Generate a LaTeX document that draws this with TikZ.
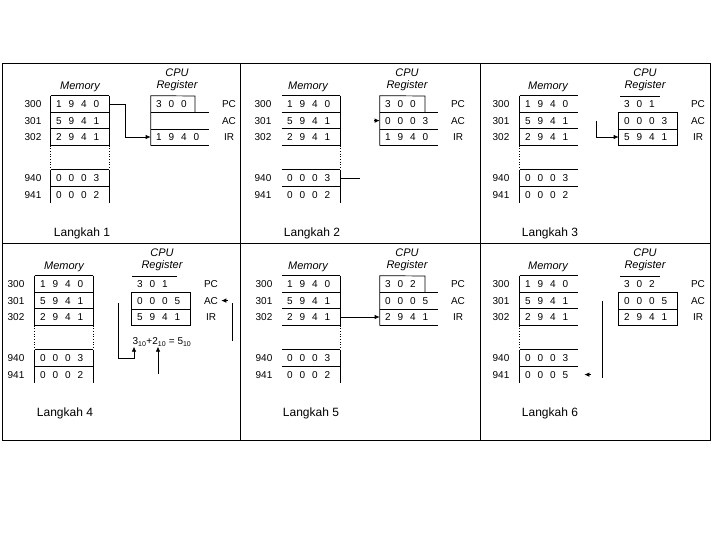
\documentclass[tikz,border=0pt]{standalone}
\usepackage{fontspec}
\setmainfont{Liberation Sans}
\usetikzlibrary{arrows.meta, positioning, calc}
\newcommand{\cellval}[1]{{\spaceskip=7pt\relax#1}}

\begin{document}
\begin{tikzpicture}[
    x=1pt, y=-1pt, line width=0.7pt,
    txt/.style={inner sep=0pt, font=\fontsize{10}{12}\selectfont},
    cell/.style={inner ysep=0pt, inner xsep=5pt, text width=48pt, minimum height=16.4pt, align=left, font=\fontsize{10}{12}\selectfont},
    head/.style={inner sep=0pt, font=\fontsize{11}{13}\selectfont\itshape},
    langkah/.style={inner sep=0pt, font=\fontsize{12}{14}\selectfont},
    link/.style={-{Latex[length=5pt,width=4.5pt]}},
]

\useasboundingbox (0,0) rectangle (720,540);
\draw (2,63) rectangle (710,440);
\draw (2,243) -- (710,243);
\draw (240,63) -- (240,440);
\draw (480,63) -- (480,440);

\foreach \pn/\ax/\mx/\rx/\lx/\cx/\hx/\sx/\oy/\mlast/\eL/\eR/\rpc/\rac/\rir in {
    1/33/51/151/229/177/80/82/0/0 0 0 2/1/1/3 0 0/{}/1 9 4 0,
    2/263/282/380/458/407/308/312/0/0 0 0 2/0/1/3 0 0/0 0 0 3/1 9 4 0,
    3/501/520/619/698/645/548/550/0/0 0 0 2/1/0/3 0 1/0 0 0 3/5 9 4 1,
    4/16/35/132/211/162/64/65/180/0 0 0 2/1/1/3 0 1/0 0 0 5/5 9 4 1,
    5/264/282/380/458/407/308/311/180/0 0 0 2/0/1/3 0 2/0 0 0 5/2 9 4 1,
    6/501/520/619/698/645/548/550/180/0 0 0 5/1/0/3 0 2/0 0 0 5/2 9 4 1} {
  \node[head] (p\pn-mem) at (\hx,\oy+87) {Memory};
  \node[head] (p\pn-cpu) at (\cx,\oy+73) {CPU};
  \node[head, below=2.5pt of p\pn-cpu] (p\pn-reg) {Register};
  \node[langkah] (p\pn-step) at (\sx,\oy+233) {Langkah \pn};
  \foreach \addr/\val/\yy in {300/1 9 4 0/104.2, 301/5 9 4 1/120.6, 302/2 9 4 1/137, 940/0 0 0 3/178.2, 941/\mlast/194.6} {
    \node[txt] (p\pn-a\addr) at (\ax,\oy+\yy) {\addr};
    \node[cell] (p\pn-m\addr) at (\mx+29,\oy+\yy) {\cellval{\val}};
    \draw (p\pn-m\addr.north west) -- (p\pn-m\addr.north east);
  }
  \draw (p\pn-m302.south west) -- (p\pn-m302.south east);
  \ifnum\eL=1\relax
    \draw (p\pn-m300.north west) -- (p\pn-m302.south west);
    \draw[dotted] (p\pn-m302.south west) -- (p\pn-m940.north west);
    \draw (p\pn-m940.north west) -- (p\pn-m941.south west);
  \fi
  \ifnum\eR=1\relax
    \draw (p\pn-m300.north east) -- (p\pn-m302.south east);
    \draw[dotted] (p\pn-m302.south east) -- (p\pn-m940.north east);
    \draw (p\pn-m940.north east) -- (p\pn-m941.south east);
  \fi
  \node[cell] (p\pn-pc) at (\rx+29,\oy+104.2) {\cellval{\rpc}};
  \node[cell] (p\pn-ac) at (\rx+29,\oy+120.6) {\cellval{\rac}};
  \node[cell] (p\pn-ir) at (\rx+29,\oy+137) {\cellval{\rir}};
  \node[txt] (p\pn-lpc) at (\lx,\oy+104.2) {PC};
  \node[txt] (p\pn-lac) at (\lx,\oy+120.6) {AC};
  \node[txt] (p\pn-lir) at (\lx,\oy+137) {IR};
  \draw (p\pn-pc.south west) -- (p\pn-pc.south east);
  \draw (p\pn-ac.south west) -- (p\pn-ac.south east);
  \draw (p\pn-ir.south west) -- (p\pn-ir.south east);
}

\draw (p1-ir.south west) -- (p1-pc.north west) -- (195,96) -- (195,112.4);
\draw[link] (p1-m300.east) -- ++(16,0) |- (p1-ir.west);

\draw (p2-ir.south west) -- (p2-pc.north west) -- (425,96) -- (425,112.4);
\coordinate (p2-end) at (360,178.2);
\draw (p2-m940.east) -- (p2-end);
\coordinate (p2-tail) at (374,120.6);
\draw[link] (p2-tail) -- (p2-ac.west);

\draw (620,96) -- (660,96);
\draw (p3-ac.north west) -- (p3-ir.south west);
\draw (p3-ac.north east) -- (p3-ir.south east);
\coordinate (p3-src) at (596,121);
\draw[link] (p3-src) |- (p3-ir.west);

\draw (132,276) -- (177,276);
\draw (p4-ac.north west) -- (p4-ir.south west);
\draw (p4-ac.north east) -- (p4-ir.south east);
\node[txt] (p4-sum) at (162,342) {3\textsubscript{10}+2\textsubscript{10} = 5\textsubscript{10}};
\coordinate (p4-src) at (118,303);
\coordinate (p4-bend) at (134,358);
\draw[link] (p4-src) |- (p4-bend) -- (p4-bend |- p4-sum.south);
\coordinate (p4-in) at (158,374);
\draw[link] (p4-in) -- (p4-in |- p4-sum.south);
\coordinate (p4-top) at (232,303);
\coordinate (p4-bot) at (232,341);
\draw (p4-bot) -- (p4-top);
\coordinate (p4-tail) at (228,300.6);
\draw[link] (p4-tail) -- ([xshift=3pt]p4-lac.east);

\draw (p5-ir.south west) -- (p5-pc.north west) -- (425,276) -- (425,292.4);
\draw[link] (p5-m302.east) -- (p5-ir.west);

\draw (620,276) -- (660,276);
\draw (p6-ac.north west) -- (p6-ir.south west);
\draw (p6-ac.north east) -- (p6-ir.south east);
\coordinate (p6-top) at (602,301);
\coordinate (p6-bot) at (602,378);
\draw (p6-top) -- (p6-bot);
\coordinate (p6-tail) at (591,374.6);
\draw[link] (p6-tail) -- ([xshift=6pt]p6-m941.east);

\end{tikzpicture}
\end{document}
